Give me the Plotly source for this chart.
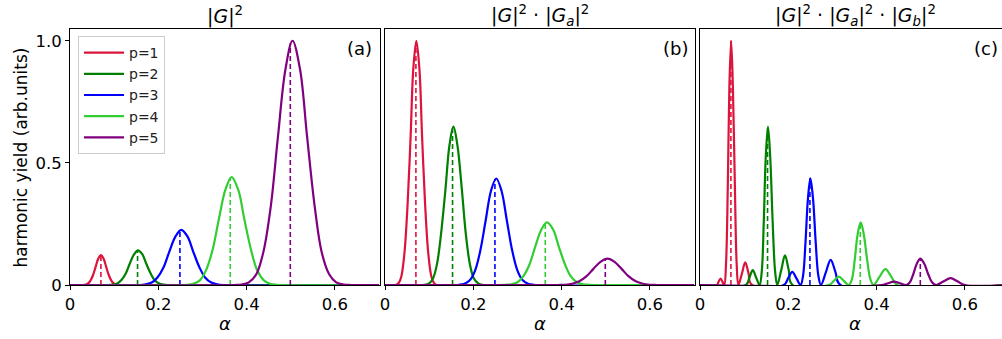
import plotly.graph_objects as go

# ---------------- data ----------------
P_LABELS = ["p=1", "p=2", "p=3", "p=4", "p=5"]
COLORS = ["#DC143C", "#008000", "#0000FF", "#32CD32", "#800080"]
PANEL_TITLES = [
    "|<i>G</i>|<sup>2</sup>",
    "|<i>G</i>|<sup>2</sup> · |<i>G</i><sub><i>a</i></sub>|<sup>2</sup>",
    "|<i>G</i>|<sup>2</sup> · |<i>G</i><sub><i>a</i></sub>|<sup>2</sup> · |<i>G</i><sub><i>b</i></sub>|<sup>2</sup>",
]
PANEL_TAGS = ["(a)", "(b)", "(c)"]
X_TICKS = [0, 0.2, 0.4, 0.6]
X_TICK_LABELS = ["0", "0.2", "0.4", "0.6"]
Y_TICKS = [0, 0.5, 1.0]
Y_TICK_LABELS = ["0", "0.5", "1.0"]
X_TITLE = "<i>α</i>"
Y_TITLE = "harmonic yield (arb.units)"

DASH_X = [0.070, 0.153, 0.249, 0.363, 0.499]
A_DASH_H = [0.120, 0.140, 0.224, 0.438, 0.990]
B_DASH_H = [0.995, 0.645, 0.434, 0.254, 0.106]
C_DASH_H = [1.000, 0.648, 0.437, 0.256, 0.108]

# panel (a)  |G|^2
A_X1 = [0.0, 0.028, 0.034, 0.040, 0.046, 0.052, 0.058, 0.064, 0.070, 0.076, 0.082, 0.088, 0.094, 0.100, 0.106, 0.112, 0.7]
A_Y1 = [0, 0.000, 0.001, 0.005, 0.017, 0.040, 0.074, 0.108, 0.122, 0.108, 0.074, 0.040, 0.017, 0.005, 0.001, 0.000, 0]
A_X2 = [0.0, 0.088, 0.097, 0.107, 0.116, 0.126, 0.135, 0.145, 0.154, 0.164, 0.173, 0.183, 0.192, 0.202, 0.211, 0.221, 0.7]
A_Y2 = [0, 0.000, 0.002, 0.006, 0.019, 0.046, 0.086, 0.125, 0.142, 0.125, 0.086, 0.046, 0.019, 0.006, 0.002, 0.000, 0]
A_X3 = [0.0, 0.158, 0.171, 0.185, 0.198, 0.212, 0.225, 0.239, 0.252, 0.266, 0.279, 0.293, 0.306, 0.320, 0.333, 0.347, 0.7]
A_Y3 = [0, 0.000, 0.003, 0.010, 0.031, 0.073, 0.137, 0.199, 0.226, 0.199, 0.137, 0.073, 0.031, 0.010, 0.003, 0.000, 0]
A_X4 = [0.0, 0.265, 0.279, 0.294, 0.308, 0.323, 0.337, 0.352, 0.366, 0.381, 0.395, 0.410, 0.424, 0.439, 0.453, 0.468, 0.7]
A_Y4 = [0, 0.001, 0.005, 0.019, 0.060, 0.144, 0.268, 0.390, 0.442, 0.390, 0.268, 0.144, 0.060, 0.019, 0.005, 0.001, 0]
A_X5 = [0.0, 0.372, 0.389, 0.405, 0.422, 0.438, 0.455, 0.471, 0.488, 0.504, 0.521, 0.537, 0.554, 0.570, 0.587, 0.603, 0.620, 0.636, 0.7]
A_Y5 = [0, 0.000, 0.002, 0.011, 0.044, 0.135, 0.325, 0.607, 0.883, 1.000, 0.883, 0.607, 0.325, 0.135, 0.044, 0.011, 0.002, 0.000, 0]

# panel (b)  |G|^2 |Ga|^2
B_X1 = [0.0, 0.024, 0.031, 0.037, 0.044, 0.051, 0.058, 0.064, 0.071, 0.078, 0.084, 0.091, 0.098, 0.105, 0.111, 0.118, 0.7]
B_Y1 = [0, 0.000, 0.008, 0.035, 0.130, 0.325, 0.607, 0.883, 1.000, 0.883, 0.607, 0.325, 0.130, 0.035, 0.008, 0.000, 0]
B_X2 = [0.0, 0.090, 0.100, 0.109, 0.118, 0.127, 0.137, 0.146, 0.155, 0.164, 0.174, 0.183, 0.192, 0.201, 0.211, 0.220, 0.7]
B_Y2 = [0, 0.001, 0.007, 0.028, 0.088, 0.210, 0.393, 0.572, 0.648, 0.572, 0.393, 0.210, 0.088, 0.028, 0.007, 0.001, 0]
B_X3 = [0.0, 0.168, 0.180, 0.192, 0.204, 0.216, 0.228, 0.240, 0.252, 0.264, 0.276, 0.288, 0.300, 0.312, 0.324, 0.336, 0.7]
B_Y3 = [0, 0.001, 0.005, 0.019, 0.059, 0.142, 0.264, 0.385, 0.436, 0.385, 0.264, 0.142, 0.059, 0.019, 0.005, 0.001, 0]
B_X4 = [0.0, 0.273, 0.286, 0.300, 0.313, 0.327, 0.340, 0.354, 0.367, 0.381, 0.394, 0.408, 0.421, 0.435, 0.448, 0.462, 0.7]
B_Y4 = [0, 0.001, 0.003, 0.011, 0.035, 0.083, 0.155, 0.226, 0.256, 0.226, 0.155, 0.083, 0.035, 0.011, 0.003, 0.001, 0]
B_X5 = [0.0, 0.392, 0.408, 0.424, 0.440, 0.456, 0.472, 0.488, 0.504, 0.520, 0.536, 0.552, 0.568, 0.584, 0.600, 0.616, 0.7]
B_Y5 = [0, 0.000, 0.001, 0.005, 0.015, 0.035, 0.066, 0.095, 0.108, 0.095, 0.066, 0.035, 0.015, 0.005, 0.001, 0.000, 0]

# panel (c)  |G|^2 |Ga|^2 |Gb|^2
C_X1 = [0.0, 0.038, 0.042, 0.0465, 0.051, 0.055, 0.059, 0.063, 0.0665, 0.0705, 0.0745, 0.079, 0.083, 0.087, 0.095, 0.1025, 0.110, 0.118, 0.7]
C_Y1 = [0, 0, 0.013, 0.026, 0.013, 0, 0.090, 0.405, 0.810, 1.000, 0.810, 0.405, 0.090, 0, 0.047, 0.093, 0.047, 0, 0]
C_X2 = [0.0, 0.104, 0.112, 0.1195, 0.127, 0.135, 0.140, 0.1445, 0.149, 0.154, 0.159, 0.1645, 0.170, 0.175, 0.184, 0.1925, 0.201, 0.210, 0.7]
C_Y2 = [0, 0, 0.031, 0.061, 0.031, 0, 0.058, 0.262, 0.525, 0.648, 0.525, 0.262, 0.058, 0, 0.061, 0.121, 0.061, 0, 0]
C_X3 = [0.0, 0.190, 0.1995, 0.209, 0.2185, 0.228, 0.2335, 0.239, 0.2445, 0.250, 0.256, 0.262, 0.268, 0.274, 0.285, 0.296, 0.307, 0.318, 0.7]
C_Y3 = [0, 0, 0.027, 0.054, 0.027, 0, 0.039, 0.177, 0.354, 0.437, 0.354, 0.177, 0.039, 0, 0.052, 0.103, 0.052, 0, 0]
C_X4 = [0.0, 0.292, 0.303, 0.3145, 0.326, 0.337, 0.344, 0.3505, 0.357, 0.364, 0.371, 0.3785, 0.386, 0.393, 0.4065, 0.420, 0.4335, 0.447, 0.7]
C_Y4 = [0, 0, 0.017, 0.034, 0.017, 0, 0.023, 0.104, 0.207, 0.256, 0.207, 0.104, 0.023, 0, 0.033, 0.065, 0.033, 0, 0]
C_X5 = [0.0, 0.412, 0.426, 0.4395, 0.453, 0.467, 0.475, 0.483, 0.491, 0.499, 0.508, 0.517, 0.526, 0.535, 0.551, 0.5675, 0.584, 0.600, 0.7]
C_Y5 = [0, 0, 0.007, 0.014, 0.007, 0, 0.010, 0.044, 0.087, 0.108, 0.087, 0.044, 0.010, 0, 0.014, 0.028, 0.014, 0, 0]

PANELS = [
    ([A_X1, A_X2, A_X3, A_X4, A_X5], [A_Y1, A_Y2, A_Y3, A_Y4, A_Y5], A_DASH_H),
    ([B_X1, B_X2, B_X3, B_X4, B_X5], [B_Y1, B_Y2, B_Y3, B_Y4, B_Y5], B_DASH_H),
    ([C_X1, C_X2, C_X3, C_X4, C_X5], [C_Y1, C_Y2, C_Y3, C_Y4, C_Y5], C_DASH_H),
]

# ---------------- layout constants ----------------
W, H = 1002, 339
ML, MR, MT, MB = 70, 0, 29, 54
PW = W - ML - MR
PH = H - MT - MB
PX_PER_UNIT = 441.5
PANEL_PX = [(70, 379.5), (385, 695), (700, 1002)]
FONT = "DejaVu Sans"

fig = go.Figure()

for pi, (xs, ys, dh) in enumerate(PANELS):
    xa = "x" if pi == 0 else f"x{pi+1}"
    ya = "y" if pi == 0 else f"y{pi+1}"
    for k in range(5):
        fig.add_trace(go.Scatter(
            x=xs[k], y=ys[k], mode="lines", xaxis=xa, yaxis=ya,
            line=dict(color=COLORS[k], width=2.2, shape="spline", smoothing=1.0),
            name=P_LABELS[k], legendgroup=P_LABELS[k], showlegend=(pi == 0),
        ))
        fig.add_trace(go.Scatter(
            x=[DASH_X[k], DASH_X[k]], y=[0, dh[k]], mode="lines", xaxis=xa, yaxis=ya,
            line=dict(color=COLORS[k], width=1.6, dash="5px,3px"),
            showlegend=False, hoverinfo="skip",
        ))

layout = dict(
    width=W, height=H,
    margin=dict(l=ML, r=MR, t=MT, b=MB, pad=0),
    paper_bgcolor="white", plot_bgcolor="white",
    font=dict(family=FONT, size=16, color="black"),
    showlegend=True,
    legend=dict(
        x=(78 - ML) / PW, y=(H - MB - 36) / PH, xanchor="left", yanchor="top",
        bgcolor="rgba(255,255,255,0.8)", bordercolor="#cccccc", borderwidth=1,
        font=dict(family=FONT, size=14, color="#222222"),
        tracegroupgap=0, itemwidth=40,
    ),
)

annotations = []
for pi in range(3):
    x0, x1 = PANEL_PX[pi]
    d0 = (x0 - ML) / PW
    d1 = (x1 - ML) / PW
    rng = [0, (x1 - x0) / PX_PER_UNIT]
    sfx = "" if pi == 0 else str(pi + 1)
    layout["xaxis" + sfx] = dict(
        domain=[d0, min(d1, 1.0)], range=rng, anchor="y" + sfx,
        tickmode="array", tickvals=X_TICKS, ticktext=X_TICK_LABELS,
        ticks="outside", ticklen=4, tickwidth=1, tickcolor="black",
        showline=True, linecolor="black", linewidth=1, mirror=True,
        showgrid=False, zeroline=False, layer="below traces",
        tickfont=dict(family=FONT, size=16.5, color="black"),
    )
    ydict = dict(
        domain=[0, 1], range=[0, 1.048], anchor="x" + sfx,
        showline=True, linecolor="black", linewidth=1, mirror=True,
        showgrid=False, zeroline=False, layer="below traces",
    )
    if pi == 0:
        ydict.update(tickmode="array", tickvals=Y_TICKS, ticktext=Y_TICK_LABELS,
                     ticks="outside", ticklen=4, tickwidth=1, tickcolor="black",
                     tickfont=dict(family=FONT, size=16.5, color="black"))
    else:
        ydict.update(showticklabels=False, ticks="")
    layout["yaxis" + sfx] = ydict

    cx = ((x0 + x1) / 2 - ML) / PW
    if pi == 2:
        cx = ((x0 + 1010) / 2 - ML) / PW
    annotations.append(dict(
        text=PANEL_TITLES[pi], xref="paper", yref="paper",
        x=cx, y=(H - MB - 15) / PH, xanchor="center", yanchor="middle",
        showarrow=False, font=dict(family=FONT, size=19, color="black"),
    ))
    tag_right = [374, 690, 1000][pi]
    annotations.append(dict(
        text=PANEL_TAGS[pi], xref="paper", yref="paper",
        x=(tag_right - ML) / PW, y=(H - MB - 48.5) / PH, xanchor="right", yanchor="middle",
        showarrow=False, font=dict(family=FONT, size=18, color="black"),
    ))
    annotations.append(dict(
        text=X_TITLE, xref="paper", yref="paper",
        x=((x0 + [379.5, 695, 1010][pi]) / 2 - ML) / PW, y=(H - MB - 323) / PH,
        xanchor="center", yanchor="middle",
        showarrow=False, font=dict(family=FONT, size=18, color="black"),
    ))

annotations.append(dict(
    text=Y_TITLE, xref="paper", yref="paper",
    x=(20 - ML) / PW, y=(H - MB - 157.5) / PH, xanchor="center", yanchor="middle",
    textangle=-90, showarrow=False, font=dict(family=FONT, size=17, color="black"),
))
layout["annotations"] = annotations

fig.update_layout(**layout)
fig.write_html(
    "out.html",
    config={"displayModeBar": False},
    post_script="document.body.style.margin='0';document.body.style.padding='0';",
)
